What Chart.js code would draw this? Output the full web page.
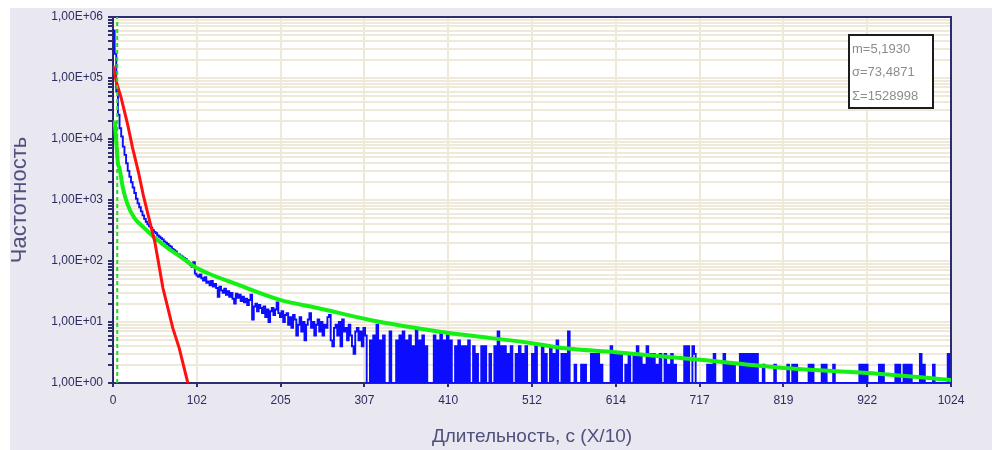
<!DOCTYPE html>
<html>
<head>
<meta charset="utf-8">
<script src="https://cdn.jsdelivr.net/npm/chart.js@4.4.1/dist/chart.umd.min.js"></script>
<style>
html,body{margin:0;padding:0;background:#fff;}
#caixa{width:992px;height:450px;}
</style>
</head>
<body>
<div id="caixa"><canvas id="grafico" width="992" height="450"></canvas></div>
<script>
// histograma (azul): bins de 2 unidades, x = i*2
const passo = 2
const azul = [
  600000, 250000, 60000, 25000, 15000, 11000, 7500, 5500, 4000, 3000,
  2400, 1950, 1600, 1300, 1050, 880, 760, 650, 560, 490,
  440, 400, 370, 350, 320, 300, 285, 262, 250, 236,
  226, 210, 200, 190, 178, 172, 158, 150, 144, 130,
  128, 122, 118, 112, 108, 100, 92, 86, 80, 96,
  62, 58, 55, 60, 52, 48, 54, 44, 46, 40,
  47, 38, 42, 36, 26, 38, 33, 30, 35, 28,
  32, 26, 30, 24, 20, 29, 25, 28, 22, 26,
  21, 24, 19, 23, 28, 11, 18, 20, 15, 19,
  17, 14, 18, 12, 16, 10, 15, 17, 13, 16,
  21, 14, 12, 15, 10, 13, 14, 9, 12, 8,
  13, 11, 6, 9, 12, 7, 10, 5, 9, 11,
  14, 8, 10, 6, 9, 11, 7, 10, 6, 9,
  8, 12, 13, 5, 4, 8, 9, 6, 10, 4,
  11, 7, 8, 5, 9, 6, 4, 3, 7, 8,
  5, 7, 4, 8, 6, 1, 1, 5, 1, 6,
  1, 9, 1, 5, 1, 6, 1, 1, 1, 7,
  1, 1, 1, 5, 1, 6, 1, 7, 1, 5,
  1, 6, 1, 4, 1, 8, 1, 5, 1, 6,
  1, 4, 1, 1, 1, 1, 6, 1, 5, 1,
  7, 1, 5, 1, 6, 1, 5, 1, 1, 4,
  1, 5, 1, 4, 1, 4, 1, 5, 1, 1,
  4, 1, 3, 1, 1, 4, 1, 4, 1, 1,
  3, 1, 1, 4, 1, 7, 1, 4, 1, 4,
  1, 3, 1, 4, 1, 1, 3, 1, 4, 1,
  3, 1, 4, 1, 1, 1, 3, 1, 4, 1,
  1, 1, 4, 1, 3, 1, 1, 4, 1, 3,
  1, 5, 1, 1, 3, 1, 3, 1, 7, 1,
  1, 1, 2, 1, 1, 1, 2, 1, 2, 1,
  1, 1, 3, 1, 3, 1, 3, 1, 2, 1,
  1, 1, 1, 1, 4, 1, 3, 1, 3, 1,
  3, 1, 1, 2, 1, 3, 1, 1, 3, 1,
  4, 1, 3, 1, 2, 1, 4, 1, 3, 1,
  3, 1, 2, 1, 3, 1, 1, 3, 1, 2,
  1, 3, 1, 2, 1, 1, 1, 1, 1, 4,
  1, 4, 1, 1, 4, 3, 1, 1, 1, 1,
  1, 1, 1, 2, 1, 2, 1, 3, 1, 1,
  1, 1, 1, 3, 1, 2, 1, 2, 1, 2,
  1, 1, 1, 3, 1, 3, 1, 3, 1, 3,
  1, 3, 1, 3, 1, 1, 1, 2, 1, 1,
  1, 1, 1, 1, 2, 1, 1, 1, 1, 1,
  1, 1, 2, 1, 1, 2, 1, 2, 1, 1,
  1, 1, 1, 1, 1, 2, 1, 2, 1, 1,
  1, 1, 1, 2, 1, 2, 1, 1, 1, 1,
  2, 1, 1, 1, 1, 1, 1, 1, 1, 1,
  1, 1, 1, 1, 1, 1, 2, 1, 2, 1,
  2, 1, 1, 1, 1, 1, 1, 1, 2, 1,
  2, 1, 1, 1, 1, 1, 1, 1, 2, 1,
  2, 1, 1, 2, 1, 2, 1, 2, 1, 1,
  1, 1, 1, 3, 1, 2, 1, 1, 1, 1,
  1, 2, 1, 1, 1, 1, 1, 1, 1, 1,
  3, 1
]
// curva verde (ajuste)
const verdeX = [2, 4, 6, 8, 12, 18, 26, 38, 51, 67, 83, 100, 116, 150, 204, 250, 314, 410, 430, 512, 552, 614, 717, 819, 922, 1024]
const verdeY = [20000, 9000, 4000, 3300, 1600, 830, 510, 350, 240, 163, 116, 80, 63, 42, 23, 17, 10.8, 6.6, 6.1, 4.5, 3.7, 3.2, 2.4, 1.76, 1.46, 1.12]
// reta vermelha (exponencial)
const vermelhoX = [0, 4, 10, 18, 24, 31, 37, 45, 51, 55, 61, 67, 73, 81, 90, 91.5]
const vermelhoY = [160000, 87000, 47000, 17000, 7100, 2900, 1200, 440, 208, 105, 36, 17, 8, 3.7, 1.2, 1]
const media = 5.193
const ticksX = [0, 102.4, 204.8, 307.2, 409.6, 512, 614.4, 716.8, 819.2, 921.6, 1024]
const rotulosX = ['0', '102', '205', '307', '410', '512', '614', '717', '819', '922', '1024']
const decadas = [1, 10, 100, 1000, 10000, 100000, 1000000]
const rotulosY = ['1,00E+00', '1,00E+01', '1,00E+02', '1,00E+03', '1,00E+04', '1,00E+05', '1,00E+06']
const textoCaixa = ['m=5,1930', 'σ=73,4871', 'Σ=1528998']

const ticksY = []
decadas.forEach((d, i) => {
  if (i == decadas.length - 1) { ticksY.push(d); return }
  for (let k = 1; k < 10; k++) ticksY.push(k * d)
})

const pontosAzul = [{x: 0, y: 1}]
  .concat(azul.map((v, i) => ({x: i * passo, y: v})))
  .concat([{x: 1024, y: azul[azul.length - 1]}])
const pontosVerde = verdeX.map((x, i) => ({x: x, y: verdeY[i]}))
const pontosVermelho = vermelhoX.map((x, i) => ({x: x, y: vermelhoY[i]}))

const corEixo = '#2e2e6e'
const corGrade = '#efe9d9'
const fonteTick = {family: 'Arial, sans-serif', size: 12}

const fundo = {
  id: 'fundo',
  beforeDraw(chart) {
    const c = chart.ctx, a = chart.chartArea
    c.save()
    c.fillStyle = '#e9e7ef'
    c.fillRect(10, 8, 982, 442)
    c.fillStyle = '#ffffff'
    c.fillRect(a.left, a.top, a.right - a.left, a.bottom - a.top)
    c.restore()
  },
  beforeDatasetsDraw(chart) {
    const c = chart.ctx, a = chart.chartArea
    c.save()
    c.strokeStyle = corEixo
    c.lineWidth = 2
    c.strokeRect(a.left, a.top, a.right - a.left, a.bottom - a.top)
    c.restore()
  },
  afterDraw(chart) {
    const c = chart.ctx
    c.save()
    c.fillStyle = '#ffffff'
    c.fillRect(849, 35, 84, 73)
    c.strokeStyle = '#1c1c1c'
    c.lineWidth = 2
    c.strokeRect(849, 35, 84, 73)
    c.fillStyle = '#8c8c8c'
    c.font = '13px Arial, sans-serif'
    c.textBaseline = 'middle'
    textoCaixa.forEach((t, i) => c.fillText(t, 852, 49.5 + i * 23.3))
    c.restore()
  }
}

const ctx = document.getElementById('grafico')
new Chart(ctx, {
  type: 'line',
  data: {
    datasets: [
      {data: [{x: media, y: 1}, {x: media, y: 1000000}], borderColor: '#22dd22', borderWidth: 2, borderDash: [4, 3], pointRadius: 0},
      {data: pontosVermelho, borderColor: '#ff1010', borderWidth: 3, pointRadius: 0, tension: 0},
      {data: pontosVerde, borderColor: '#14f014', borderWidth: 4, pointRadius: 0, cubicInterpolationMode: 'monotone'},
      {data: pontosAzul, borderColor: '#0c0cff', borderWidth: 1.9, pointRadius: 0, stepped: true}
    ]
  },
  options: {
    responsive: false,
    animation: false,
    events: [],
    devicePixelRatio: 1,
    layout: {padding: {left: 0, top: 17, right: 41, bottom: 0}},
    plugins: {legend: {display: false}, tooltip: {enabled: false}},
    scales: {
      x: {
        type: 'linear', min: 0, max: 1024,
        afterBuildTicks: s => { s.ticks = ticksX.map(v => ({value: v})) },
        afterFit: s => { s.height = 67 },
        ticks: {callback: (v, i) => rotulosX[i], color: '#2c2c62', font: fonteTick, padding: 6, maxRotation: 0, autoSkip: false},
        grid: {color: corGrade, lineWidth: 2, tickLength: 4, tickColor: corEixo},
        border: {color: corEixo, width: 2},
        title: {display: true, text: 'Длительность, с (X/10)', color: '#50507e', font: {family: 'Arial', size: 19}, padding: {top: 0, bottom: 2}}
      },
      y: {
        type: 'logarithmic', min: 1, max: 1000000,
        afterBuildTicks: s => { s.ticks = ticksY.map(v => ({value: v})) },
        afterFit: s => { s.width = 113 },
        ticks: {
          callback: v => { const i = decadas.indexOf(v); return i >= 0 ? rotulosY[i] : '' },
          color: '#2c2c62', font: fonteTick, padding: 5, autoSkip: false
        },
        grid: {color: corGrade, lineWidth: 2, tickLength: 5, tickColor: corEixo},
        border: {color: corEixo, width: 2},
        title: {display: true, text: 'Частотность', color: '#50507e', font: {family: 'Arial', size: 22}, padding: {top: 7, bottom: 0}}
      }
    }
  },
  plugins: [fundo]
})
</script>
</body>
</html>
